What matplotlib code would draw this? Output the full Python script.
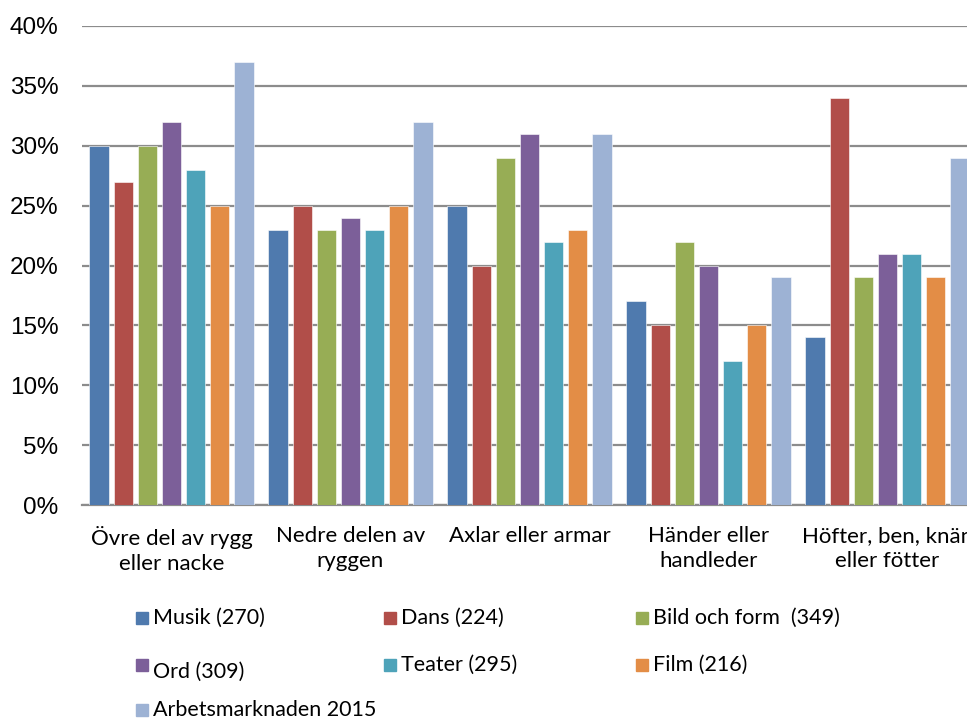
import matplotlib
matplotlib.use("Agg")
import matplotlib.pyplot as plt
from matplotlib.patches import Rectangle
import numpy as np

categories = ["Övre del av rygg\neller nacke", "Nedre delen av\nryggen", "Axlar eller armar",
              "Händer eller\nhandleder", "Höfter, ben, knän\neller fötter"]
series_names = ["Musik (270)", "Dans (224)", "Bild och form  (349)", "Ord (309)",
                "Teater (295)", "Film (216)", "Arbetsmarknaden 2015"]
musik = [30, 23, 25, 17, 14]
dans = [27, 25, 20, 15, 34]
bild = [30, 23, 29, 22, 19]
ord_ = [32, 24, 31, 20, 21]
teater = [28, 23, 22, 12, 21]
film = [25, 25, 23, 15, 19]
arbets = [37, 32, 31, 19, 29]
values = [musik, dans, bild, ord_, teater, film, arbets]
colors = ["#4f7aae", "#b14e49", "#97ad55", "#7c5f99", "#4ea3b9", "#e38d46", "#9db2d4"]
yticks = [0, 5, 10, 15, 20, 25, 30, 35, 40]

W, H = 967, 720
fig = plt.figure(figsize=(W / 100, H / 100), dpi=100)
ax = fig.add_axes([82 / W, 1 - 505 / H, 895 / W, (505 - 26) / H])

x = np.arange(len(categories))
step = 0.135
width = 0.108
for i, (vals, c) in enumerate(zip(values, colors)):
    ax.bar(x + (i - 3) * step, vals, width=width, color=c, edgecolor="#ffffff",
           linewidth=0.4, zorder=3)

ax.set_xlim(-0.5, len(categories) - 0.5)
ax.set_ylim(0, 40)
ax.set_yticks(yticks)
ax.set_yticklabels([f"{t}%" for t in yticks], fontsize=17.5, family="Liberation Sans")
ax.set_xticks(x)
ax.set_xticklabels(categories, fontsize=16, family="Lato", linespacing=1.35)
ax.tick_params(axis="y", length=0, pad=17)
ax.tick_params(axis="x", length=0, pad=15)
ax.yaxis.grid(True, color="#8c8c8c", linewidth=1.6, zorder=0)
for s in ["left", "right", "top"]:
    ax.spines[s].set_visible(False)
ax.spines["bottom"].set_color("#8c8c8c")
ax.spines["bottom"].set_linewidth(1.6)

# legend laid out in three columns below the plot
col_x = [136, 384, 636]
row_y = [618, 665, 710]
for i, (name, c) in enumerate(zip(series_names, colors)):
    r, k = divmod(i, 3)
    mx, my = col_x[k], row_y[r]
    fig.patches.append(Rectangle((mx / W, 1 - (my + 6) / H), 12 / W, 12 / H,
                                 transform=fig.transFigure, color=c))
    ty = my + (7 if name.startswith("Ord") else 0)
    fig.text((mx + 17) / W, 1 - ty / H, name, fontsize=15.5, family="Lato",
             va="center", ha="left")

fig.savefig("out.png", dpi=100)
